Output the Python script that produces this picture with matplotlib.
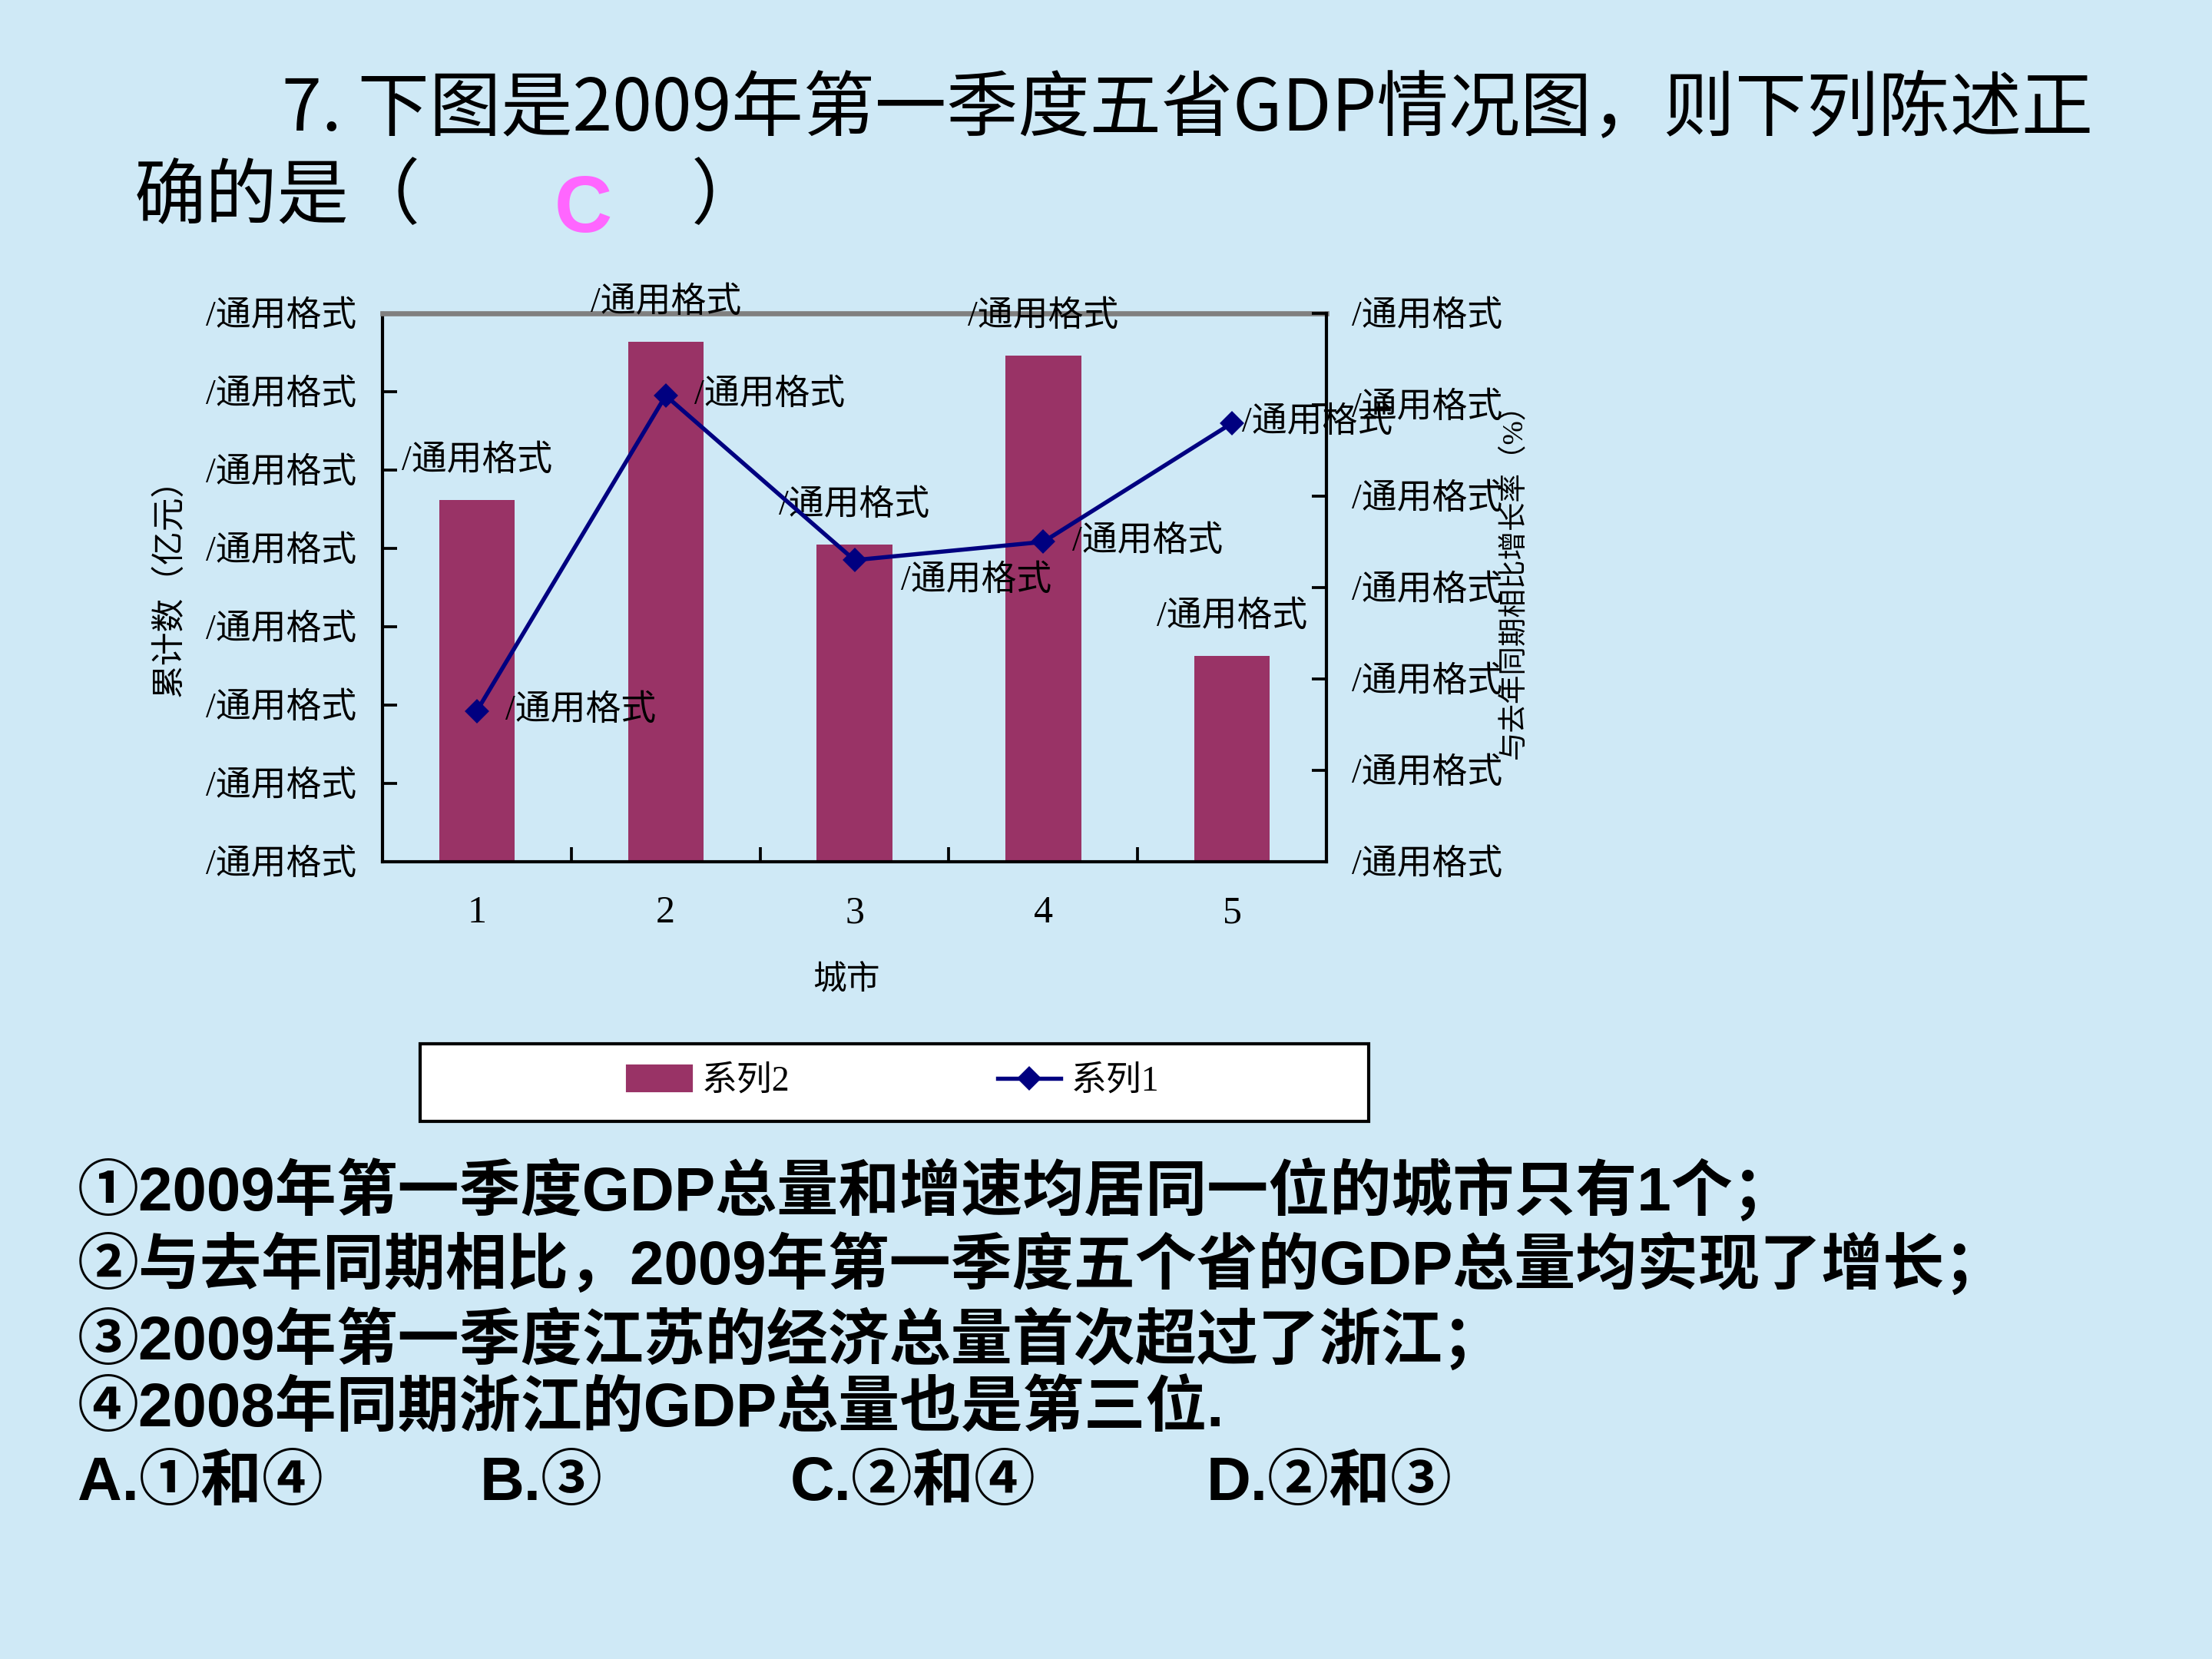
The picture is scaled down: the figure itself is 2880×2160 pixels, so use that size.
import matplotlib
matplotlib.use("Agg")
import matplotlib.pyplot as plt
from matplotlib.patches import Patch, Rectangle
from matplotlib.lines import Line2D

# ---------------- data ----------------
cities = [1, 2, 3, 4, 5]
city_labels = ["1", "2", "3", "4", "5"]
gdp_total = [4620, 6640, 4050, 6460, 2630]          # 系列2 (bars, left axis)
growth_rate = [3.3, 10.2, 6.6, 7.0, 9.6]            # 系列1 (line, right axis)
left_ticks = [0, 1000, 2000, 3000, 4000, 5000, 6000, 7000]
right_ticks = [0, 2, 4, 6, 8, 10, 12]
tick_text = "/通用格式"
bar_value_labels = ["/通用格式"] * 5
line_value_labels = ["/通用格式"] * 5
series_names = ["系列2", "系列1"]

title_line1 = "7. 下图是2009年第一季度五省GDP情况图，则下列陈述正"
title_line2 = "确的是（"
title_close = "）"
answer = "C"
questions = [
    "①2009年第一季度GDP总量和增速均居同一位的城市只有1个；",
    "②与去年同期相比，2009年第一季度五个省的GDP总量均实现了增长；",
    "③2009年第一季度江苏的经济总量首次超过了浙江；",
    "④2008年同期浙江的GDP总量也是第三位.",
]
options = ["A.①和④", "B.③", "C.②和④", "D.②和③"]

# ---------------- style ----------------
BG = "#cfe9f6"
BAR = "#993366"
LINE = "#000080"
SERIF_CJK = ["Liberation Serif", "Noto Sans CJK SC"]
SANS_CJK = ["Liberation Sans", "Noto Sans CJK SC"]
plt.rcParams["font.family"] = SERIF_CJK

fig = plt.figure(figsize=(9.6, 7.2), dpi=300, facecolor=BG)

ax = fig.add_axes([0.1729, 0.4806, 0.4268, 0.3305])
ax.set_facecolor("none")
ax2 = ax.twinx()
ax.set_zorder(1)
ax2.set_zorder(2)
ax2.patch.set_visible(False)

ax.bar(cities, gdp_total, width=0.4, color=BAR, zorder=2)
ax2.plot(cities, growth_rate, color=LINE, lw=1.3, marker="D", ms=4.5,
         markeredgecolor=LINE, markerfacecolor=LINE, zorder=3)

ax.set_xlim(0.5, 5.5)
ax.set_ylim(left_ticks[0], left_ticks[-1])
ax2.set_ylim(right_ticks[0], right_ticks[-1])

ax.set_xticks(cities)
ax.set_xticklabels(city_labels, fontsize=12, family=["Liberation Serif"])
ax.set_xticks([1.5, 2.5, 3.5, 4.5], minor=True)
ax.tick_params(axis="x", which="major", length=0, pad=10.5)
ax.tick_params(axis="x", which="minor", direction="in", length=4.5, width=0.9)

ax.set_yticks(left_ticks)
ax.set_yticklabels([tick_text] * len(left_ticks), fontsize=11, family=SERIF_CJK)
ax.tick_params(axis="y", direction="in", length=4.5, width=0.9, pad=8)

ax2.set_yticks(right_ticks)
ax2.set_yticklabels([tick_text] * len(right_ticks), fontsize=11, family=SERIF_CJK)
ax2.tick_params(axis="y", direction="in", length=4.5, width=0.9, pad=8)

for name in ["top", "right", "left", "bottom"]:
    ax2.spines[name].set_visible(False)
ax2.spines["right"].set_visible(True)
ax2.spines["right"].set_color("black")
ax2.spines["right"].set_linewidth(1.0)
ax.spines["right"].set_visible(False)
ax.spines["top"].set_color("#808080")
ax.spines["top"].set_linewidth(1.6)
for name in ["left", "bottom"]:
    ax.spines[name].set_color("black")
    ax.spines[name].set_linewidth(1.0)

# data labels
for xv, yv, lab in zip(cities, gdp_total, bar_value_labels):
    ax.annotate(lab, (xv, yv), xytext=(0, 12), textcoords="offset points",
                ha="center", va="center", fontsize=11, family=SERIF_CJK, zorder=4)
line_dx = [9, 9, 14.5, 9, 3]
line_dy = [0, 0, -6.5, 0, 0]
for xv, yv, lab, dx, dy in zip(cities, growth_rate, line_value_labels, line_dx, line_dy):
    ax2.annotate(lab, (xv, yv), xytext=(dx, dy), textcoords="offset points",
                 ha="left", va="center", fontsize=11, family=SERIF_CJK, zorder=4)

# axis titles
fig.text(0.0765, 0.651, "累计数（亿元）", rotation=90, ha="center", va="center",
         fontsize=10.5, family=SERIF_CJK)
fig.text(0.6843, 0.654, "与去年同期相比增长率（%）", rotation=90, ha="center", va="center",
         fontsize=9, family=SERIF_CJK)
fig.text(0.3827, 0.4085, "城市", ha="center", va="center", fontsize=10.5, family=SERIF_CJK)

# legend with box
rect = Rectangle((0.1901, 0.324), 0.4286, 0.0468, transform=fig.transFigure,
                 facecolor="white", edgecolor="black", lw=1.0, zorder=1)
fig.add_artist(rect)
handles = [Patch(facecolor=BAR, edgecolor=BAR),
           Line2D([0], [0], color=LINE, lw=1.3, marker="D", ms=4.5)]
fig.legend(handles, series_names, loc="center", bbox_to_anchor=(0.404, 0.3478),
           ncol=2, frameon=False, prop={"family": SERIF_CJK, "size": 11},
           handlelength=1.8, handletextpad=0.3, columnspacing=5.9)

# title text
fig.text(0.1276, 0.9337, title_line1, ha="left", va="center", fontsize=22.4,
         family=["Noto Sans CJK SC"], weight="medium")
fig.text(0.0606, 0.881, title_line2, ha="left", va="center", fontsize=22.4,
         family=["Noto Sans CJK SC"], weight="medium")
fig.text(0.3125, 0.881, title_close, ha="left", va="center", fontsize=22.4,
         family=["Noto Sans CJK SC"], weight="medium")
fig.text(0.2506, 0.8724, answer, ha="left", va="center", fontsize=25,
         color="#ff66ff", weight="bold", family=["Liberation Sans"])

# questions
q_y = [0.2815, 0.2372, 0.1922, 0.1497]
for yv, q in zip(q_y, questions):
    fig.text(0.0351, yv, q, ha="left", va="center", fontsize=19.2, weight="bold",
             family=SANS_CJK)
opt_x = [0.0351, 0.2168, 0.3571, 0.5453]
for xv, o in zip(opt_x, options):
    fig.text(xv, 0.1054, o, ha="left", va="center", fontsize=19.2, weight="bold",
             family=SANS_CJK)

fig.savefig("out.png", dpi=300, facecolor=BG)
